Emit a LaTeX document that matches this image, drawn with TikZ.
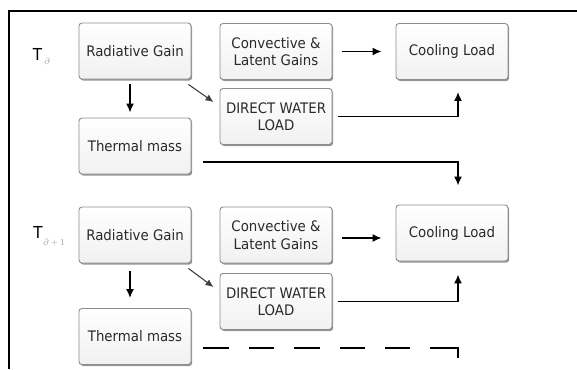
\documentclass[tikz,border=0pt]{standalone}
\usepackage{fontspec}
\setmainfont{DejaVu Sans}[FakeStretch=0.92]
\usetikzlibrary{arrows.meta,shadows,calc}
\definecolor{boxline}{HTML}{8C8C8C}
\definecolor{boxfill}{HTML}{F1F1F1}
\definecolor{txt}{HTML}{2A2A2A}
\tikzset{
  x=1pt, y=-1pt,
  blk/.style={draw=boxline, line width=0.9pt, rounded corners=3pt,
    top color=white, bottom color=boxfill,
    minimum width=112pt, minimum height=56pt, inner sep=0pt,
    align=center, text=txt,
    font=\fontsize{14.5}{17.5}\selectfont,
    drop shadow={shadow xshift=1.2pt, shadow yshift=-1.5pt, opacity=0.6, fill=black!70}},
  link/.style={line width=1.6pt, -{Latex[length=9pt,width=8pt]}},
  thin link/.style={line width=1.1pt, draw=black!75, -{Latex[length=8pt,width=7pt]}},
  tlabel/.style={inner sep=0pt, text=black, font=\fontsize{16.5}{16.5}\selectfont},
  tsub/.style={inner sep=0pt, text=black!40, font=\fontsize{9}{9}\selectfont},
  dashline/.style={line width=1.8pt, dash pattern=on 25.5pt off 20pt},
}
\begin{document}
\begin{tikzpicture}
\useasboundingbox (0,0) rectangle (577,369);
% outer frame (top and left edges)
\draw[line width=1.3pt] (9,369) -- (9,11) -- (577,11);

% time step t
\node[tlabel] (T1) at (37.5,54) {T};
\node[tsub] (s1) at (47,61) {$\partial$};
\node[blk] (RG1) at (135,51) {Radiative Gain};
\node[blk] (CV1) at (276,51.5) {Convective \&\\Latent Gains};
\node[blk] (DW1) at (276,116.5) {DIRECT WATER\\LOAD};
\node[blk] (TM1) at (135,146) {Thermal mass};
\node[blk] (CL1) at (452,51.5) {Cooling Load};

% time step t+1
\node[tlabel] (T2) at (38,232) {T};
\node[tsub] (s2) at (54,243) {$\partial+1$};
\node[blk] (RG2) at (135,235) {Radiative Gain};
\node[blk] (CV2) at (276,235) {Convective \&\\Latent Gains};
\node[blk] (DW2) at (276,301.5) {DIRECT WATER\\LOAD};
\node[blk] (TM2) at (135,336.5) {Thermal mass};
\node[blk] (CL2) at (452,233) {Cooling Load};

% connectors, step t
\draw[link, shorten <=5pt, shorten >=5pt] ([xshift=-5pt]RG1.south) -- ([xshift=-5pt]TM1.north);
\draw[thin link] ([shift={(-3pt,-5pt)}]RG1.south east) -- ([shift={(-6pt,-14pt)}]DW1.north west);
\draw[link, shorten <=10pt, shorten >=14pt] (CV1.east) -- (CV1.east -| CL1.west);
\draw[link, shorten >=12pt] ([xshift=6pt]DW1.east) -| ([xshift=6pt]CL1.south);
\draw[link, shorten >=19pt] ([shift={(12pt,-16pt)}]TM1.east) -| ([xshift=6pt]CL2.north);

% connectors, step t+1
\draw[link, shorten <=8pt, shorten >=10pt] ([xshift=-5pt]RG2.south) -- ([xshift=-5pt]TM2.north);
\draw[thin link] ([shift={(-3pt,-5pt)}]RG2.south east) -- ([shift={(-6pt,-14pt)}]DW2.north west);
\draw[link, shorten <=10pt, shorten >=14pt] ([yshift=-3pt]CV2.east) -- ([yshift=-3pt]CV2.east -| CL2.west);
\draw[link, shorten >=13pt] ([xshift=6pt]DW2.east) -| ([xshift=6pt]CL2.south);
% dashed carry-over to the next step
\coordinate (dashend) at (410,348);
\coordinate (turn) at (430,348);
\coordinate (next) at (458,358);
\draw[dashline] ([shift={(12pt,-11.5pt)}]TM2.east) -- (dashend);
\draw[line width=1.8pt] (turn) -| (next);
\end{tikzpicture}
\end{document}
